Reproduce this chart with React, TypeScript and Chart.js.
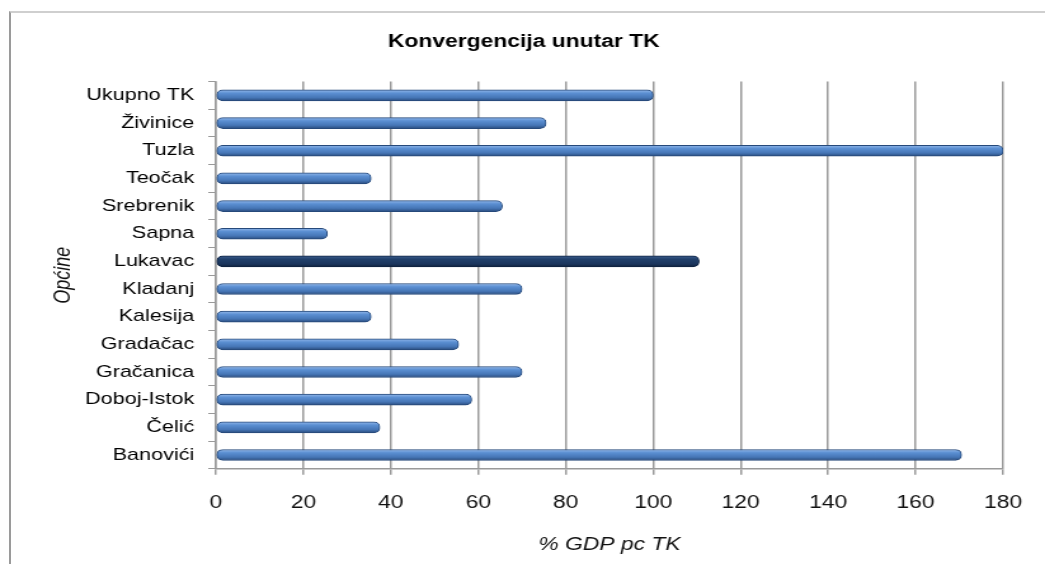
import React, { useEffect, useRef } from "react";
import { Chart, registerables } from "chart.js";

Chart.register(...registerables);

const categories = [
  "Ukupno TK",
  "Živinice",
  "Tuzla",
  "Teočak",
  "Srebrenik",
  "Sapna",
  "Lukavac",
  "Kladanj",
  "Kalesija",
  "Gradačac",
  "Gračanica",
  "Doboj-Istok",
  "Čelić",
  "Banovići",
];
const values = [100, 75.5, 180, 35.5, 65.5, 25.5, 110.5, 70, 35.5, 55.5, 70, 58.5, 37.5, 170.5];
const highlighted = "Lukavac";
const xTicks = [0, 20, 40, 60, 80, 100, 120, 140, 160, 180];

const chartTitle = "Konvergencija unutar TK";
const xTitle = "% GDP pc TK";
const yTitle = "Općine";

const FONT = "'Liberation Sans', Arial, sans-serif";
const PAGE_W = 1045;
const PAGE_H = 564;
const STRETCH = 1.27;
const CANVAS_W = Math.round(PAGE_W / STRETCH);

function barFill(context: any) {
  const chart = context.chart;
  const cat = categories[context.dataIndex];
  const dark = cat === highlighted;
  const yScale = chart.scales && chart.scales.y;
  if (!yScale || yScale.height === undefined) return dark ? "#1d3a63" : "#4a7fc1";
  const yc = yScale.getPixelForValue(context.dataIndex);
  const g = chart.ctx.createLinearGradient(0, yc - 5.5, 0, yc + 5.5);
  if (dark) {
    g.addColorStop(0, "#3d5f8f");
    g.addColorStop(0.3, "#21406b");
    g.addColorStop(0.75, "#1a355c");
    g.addColorStop(1, "#0e1f3a");
  } else {
    g.addColorStop(0, "#93b8ea");
    g.addColorStop(0.3, "#5b8fd2");
    g.addColorStop(0.7, "#4676b6");
    g.addColorStop(1, "#2a4c7e");
  }
  return g;
}

export default function App() {
  const ref = useRef<HTMLCanvasElement>(null);

  useEffect(() => {
    if (!ref.current) return;
    const chart = new Chart(ref.current, {
      type: "bar",
      data: {
        labels: categories,
        datasets: [
          {
            data: values,
            backgroundColor: barFill,
            borderColor: categories.map((c) => (c === highlighted ? "#0f2342" : "#26497a")),
            borderWidth: 1,
            borderRadius: 5,
            borderSkipped: false,
            barThickness: 11,
          },
        ],
      },
      options: {
        indexAxis: "y",
        animation: false,
        responsive: false,
        maintainAspectRatio: false,
        layout: { padding: { left: 35, right: 33, top: 0, bottom: 4 } },
        plugins: {
          legend: { display: false },
          tooltip: { enabled: false },
          title: {
            display: true,
            text: chartTitle,
            color: "#000",
            font: { family: FONT, size: 18, weight: "bold" },
            padding: { top: 31, bottom: 29 },
          },
        },
        scales: {
          x: {
            type: "linear",
            min: 0,
            max: 180,
            afterBuildTicks: (scale: any) => {
              scale.ticks = xTicks.map((v) => ({ value: v }));
            },
            ticks: {
              color: "#111",
              font: { family: FONT, size: 18 },
              padding: 17,
              maxRotation: 0,
            },
            grid: {
              color: "#9a9a9a",
              lineWidth: 1.5,
              tickLength: 6,
              drawTicks: true,
            },
            border: { display: true, color: "#9a9a9a", width: 1.5 },
            title: {
              display: true,
              text: xTitle,
              color: "#111",
              font: { family: FONT, size: 18, style: "italic" },
              padding: { top: 4, bottom: 4 },
            },
          },
          y: {
            afterFit: (scale: any) => {
              scale.width = 135;
            },
            ticks: {
              color: "#000",
              font: { family: FONT, size: 17 },
              padding: 11,
            },
            grid: {
              drawOnChartArea: false,
              drawTicks: true,
              tickLength: 6,
              color: "#9a9a9a",
              offset: true,
            },
            border: { display: true, color: "#9a9a9a", width: 1.5 },
            title: {
              display: true,
              text: yTitle,
              color: "#111",
              font: { family: FONT, size: 18, style: "italic" },
            },
          },
        },
      },
    } as any);
    return () => chart.destroy();
  }, []);

  return (
    <div style={{ position: "absolute", left: 0, top: 0, width: PAGE_W, height: PAGE_H, background: "#fff", overflow: "hidden" }}>
      <div
        style={{
          position: "absolute",
          left: 9,
          top: 11,
          width: 1040,
          height: 560,
          borderLeft: "2px solid #9a9a9a",
          borderTop: "2px solid #cfcfcf",
        }}
      />
      <div
        style={{
          position: "absolute",
          left: 0,
          top: 0,
          width: CANVAS_W,
          height: PAGE_H,
          transform: `scaleX(${PAGE_W / CANVAS_W})`,
          transformOrigin: "0 0",
        }}
      >
        <canvas ref={ref} width={CANVAS_W} height={PAGE_H} style={{ display: "block" }} />
      </div>
    </div>
  );
}
